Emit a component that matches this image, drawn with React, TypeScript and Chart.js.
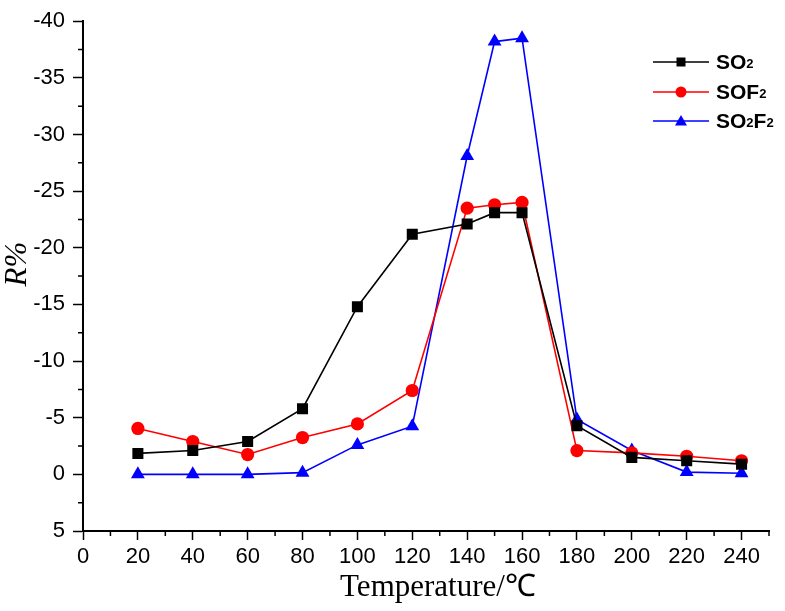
import React, { useEffect, useRef } from "react";
import { Chart, registerables } from "chart.js";

Chart.register(...registerables);

// ---- data ----
const temperatures = [20, 40, 60, 80, 100, 120, 140, 150, 160, 180, 200, 220, 240];
const so2Values = [-1.85, -2.1, -2.9, -5.8, -14.8, -21.2, -22.1, -23.1, -23.1, -4.3, -1.5, -1.2, -0.9];
const sof2Values = [-4.05, -2.9, -1.75, -3.25, -4.45, -7.4, -23.5, -23.8, -24.0, -2.1, -1.9, -1.6, -1.2];
const so2f2Values = [0, 0, 0, -0.15, -2.6, -4.25, -28.1, -38.2, -38.5, -4.85, -2.1, -0.2, -0.1];
const seriesLabels = ["SO₂", "SOF₂", "SO₂F₂"];
const xTicksMajor = [0, 20, 40, 60, 80, 100, 120, 140, 160, 180, 200, 220, 240];
const xTitle = "Temperature/℃";
const yTitle = "R%";

const SANS = "'Liberation Sans', Arial, sans-serif";
const SERIF = "'Liberation Serif', 'Times New Roman', serif";

const SUBS: Record<string, string> = { "₂": "2" };

function drawRichText(ctx: CanvasRenderingContext2D, text: string, x: number, y: number, size: number) {
  let cx = x;
  for (const ch of Array.from(text)) {
    const sub = SUBS[ch];
    if (sub) {
      ctx.font = `bold ${Math.round(size * 0.6)}px ${SANS}`;
      ctx.fillText(sub, cx, y + 1);
      cx += ctx.measureText(sub).width;
    } else {
      ctx.font = `bold ${size}px ${SANS}`;
      ctx.fillText(ch, cx, y);
      cx += ctx.measureText(ch).width;
    }
  }
}

function drawMarker(ctx: CanvasRenderingContext2D, style: string, x: number, y: number, color: string) {
  ctx.fillStyle = color;
  ctx.beginPath();
  if (style === "rect") {
    ctx.rect(x - 4.5, y - 4.5, 9, 9);
  } else if (style === "circle") {
    ctx.arc(x, y, 5.5, 0, Math.PI * 2);
  } else {
    ctx.moveTo(x, y - 6);
    ctx.lineTo(x - 6, y + 4.5);
    ctx.lineTo(x + 6, y + 4.5);
    ctx.closePath();
  }
  ctx.fill();
}

const decorPlugin = {
  id: "decor",
  afterDraw(chart: any) {
    const ctx: CanvasRenderingContext2D = chart.ctx;
    const xs = chart.scales.x;
    const ys = chart.scales.y;
    const area = chart.chartArea;
    ctx.save();
    // minor ticks
    ctx.strokeStyle = "#000";
    ctx.lineWidth = 1.5;
    ctx.beginPath();
    for (let v = 10; v <= 250; v += 20) {
      const px = xs.getPixelForValue(v);
      ctx.moveTo(px, area.bottom);
      ctx.lineTo(px, area.bottom + 5);
    }
    for (let v = -37.5; v <= 5; v += 5) {
      const py = ys.getPixelForValue(v);
      ctx.moveTo(area.left, py);
      ctx.lineTo(area.left - 5, py);
    }
    ctx.stroke();

    // axis titles
    ctx.fillStyle = "#000";
    ctx.font = `31px ${SERIF}`;
    ctx.textAlign = "center";
    ctx.textBaseline = "alphabetic";
    ctx.fillText(xTitle, (area.left + area.right) / 2 + 12, 596);

    ctx.save();
    ctx.translate(18, 264);
    ctx.rotate(-Math.PI / 2);
    ctx.font = `italic 31px ${SERIF}`;
    ctx.textBaseline = "middle";
    ctx.fillText(yTitle, 0, 0);
    ctx.restore();

    // legend
    const rows = [62, 92, 121];
    chart.data.datasets.forEach((ds: any, i: number) => {
      const y = rows[i];
      ctx.strokeStyle = ds.borderColor;
      ctx.lineWidth = 1.6;
      ctx.beginPath();
      ctx.moveTo(653, y);
      ctx.lineTo(709, y);
      ctx.stroke();
      drawMarker(ctx, ds.pointStyle, 681, y, ds.borderColor);
      ctx.fillStyle = "#000";
      ctx.textAlign = "left";
      ctx.textBaseline = "middle";
      drawRichText(ctx, ds.label, 716, y + 1, 21);
    });
    ctx.restore();
  },
};

function toPoints(vals: number[]) {
  return temperatures.map((t, i) => ({ x: t, y: vals[i] }));
}

export default function App() {
  const canvasRef = useRef<HTMLCanvasElement | null>(null);

  useEffect(() => {
    if (!canvasRef.current) return;
    const mk = (label: string, vals: number[], color: string, style: string, r: number) => ({
      label,
      data: toPoints(vals),
      borderColor: color,
      backgroundColor: color,
      pointBackgroundColor: color,
      pointBorderColor: color,
      pointBorderWidth: 0,
      pointStyle: style,
      pointRadius: r,
      borderWidth: 1.6,
      tension: 0,
    });
    const chart = new Chart(canvasRef.current, {
      type: "line",
      data: {
        datasets: [
          mk(seriesLabels[0], so2Values, "#000000", "rect", 7.8),
          mk(seriesLabels[1], sof2Values, "#ff0000", "circle", 6.6),
          mk(seriesLabels[2], so2f2Values, "#0000ff", "triangle", 8),
        ],
      },
      options: {
        animation: false,
        responsive: false,
        layout: { padding: { top: 20, right: 16, left: 0, bottom: 0 } },
        plugins: { legend: { display: false }, tooltip: { enabled: false } },
        scales: {
          x: {
            type: "linear",
            min: 0,
            max: 250,
            afterBuildTicks: (scale: any) => {
              scale.ticks = xTicksMajor.map((v) => ({ value: v }));
            },
            afterFit: (scale: any) => {
              scale.height = 80;
            },
            ticks: {
              autoSkip: false,
              maxRotation: 0,
              color: "#000",
              padding: 4,
              font: { family: SANS, size: 22 },
            },
            grid: {
              drawOnChartArea: false,
              drawTicks: true,
              tickLength: 9,
              color: "#000",
              tickColor: "#000",
              tickWidth: 1.5,
            },
            border: { display: true, color: "#000", width: 2 },
          },
          y: {
            type: "linear",
            min: -40,
            max: 5,
            reverse: true,
            afterFit: (scale: any) => {
              scale.width = 83;
            },
            ticks: {
              stepSize: 5,
              color: "#000",
              padding: 8,
              font: { family: SANS, size: 22 },
            },
            grid: {
              drawOnChartArea: false,
              drawTicks: true,
              tickLength: 10,
              color: "#000",
              tickColor: "#000",
              tickWidth: 1.5,
            },
            border: { display: true, color: "#000", width: 2 },
          },
        },
      },
      plugins: [decorPlugin],
    } as any);
    return () => chart.destroy();
  }, []);

  return (
    <div style={{ position: "absolute", left: 0, top: 0, width: 785, height: 611, background: "#fff" }}>
      <canvas ref={canvasRef} width={785} height={611} style={{ display: "block" }} />
    </div>
  );
}
